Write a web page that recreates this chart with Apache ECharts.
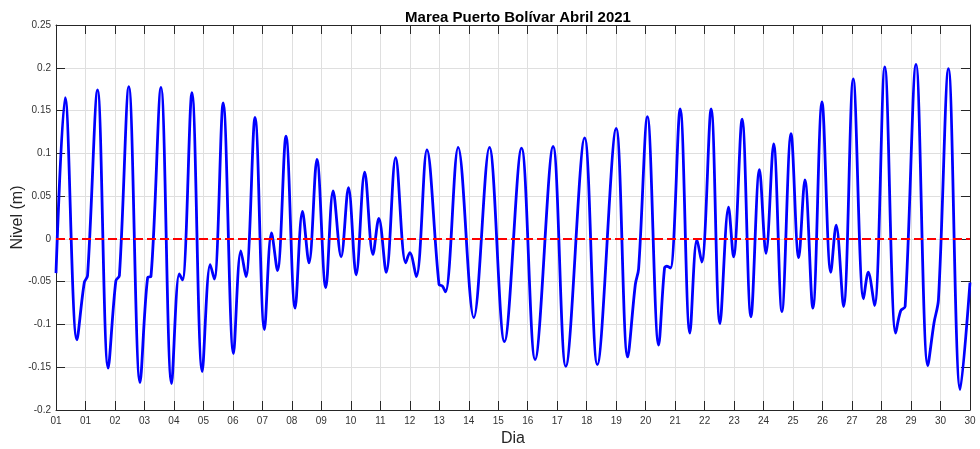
<!DOCTYPE html>
<html>
<head>
<meta charset="utf-8">
<script src="https://cdn.jsdelivr.net/npm/echarts@6/dist/echarts.min.js"></script>
<style>
html,body{margin:0;padding:0;background:#fff;}
#chart{width:980px;height:449px;}
</style>
</head>
<body>
<div id="chart"></div>
<script>
// Time position (in axis tick units, one tick per day label)
var timeDays = [
  0.00, 0.31, 0.71, 0.96, 1.07, 1.41, 1.77, 2.03, 2.15, 2.47,
  2.85, 3.11, 3.22, 3.56, 3.92, 4.18, 4.29, 4.61, 4.96, 5.23,
  5.37, 5.67, 6.02, 6.27, 6.44, 6.75, 7.07, 7.31, 7.51, 7.80,
  8.11, 8.36, 8.58, 8.85, 9.15, 9.40, 9.67, 9.92, 10.18, 10.47,
  10.75, 10.95, 11.20, 11.52, 11.86, 12.00, 12.22, 12.58, 12.99, 13.10,
  13.21, 13.64, 14.17, 14.70, 15.21, 15.79, 16.25, 16.86, 17.29, 17.93,
  18.36, 19.00, 19.39, 19.65, 19.76, 20.06, 20.44, 20.64, 20.72, 20.84,
  21.17, 21.50, 21.74, 21.90, 22.22, 22.52, 22.81, 22.98, 23.27, 23.57,
  23.86, 24.08, 24.34, 24.62, 24.93, 25.19, 25.40, 25.67, 25.98, 26.28,
  26.46, 26.71, 27.04, 27.39, 27.55, 27.76, 28.11, 28.48, 28.65, 28.80,
  29.17, 29.57, 29.78, 29.93, 30.27, 30.67, 31.00
];
// Sea level (m)
var levels = [
  -0.040, 0.165, -0.118, -0.051, -0.043, 0.174, -0.151, -0.049, -0.043, 0.178,
  -0.168, -0.045, -0.044, 0.177, -0.169, -0.041, -0.048, 0.171, -0.155, -0.030,
  -0.047, 0.159, -0.134, -0.014, -0.044, 0.142, -0.106, 0.007, -0.037, 0.120,
  -0.081, 0.032, -0.028, 0.093, -0.057, 0.056, -0.021, 0.060, -0.042, 0.078,
  -0.018, 0.024, -0.039, 0.095, -0.028, -0.016, -0.044, 0.104, -0.053, -0.055,
  -0.062, 0.107, -0.092, 0.107, -0.120, 0.106, -0.141, 0.108, -0.149, 0.118,
  -0.147, 0.129, -0.138, -0.053, -0.035, 0.143, -0.124, -0.034, -0.032, -0.034,
  0.152, -0.110, -0.001, -0.027, 0.152, -0.099, 0.037, -0.021, 0.140, -0.091,
  0.081, -0.017, 0.111, -0.085, 0.123, -0.022, 0.069, -0.081, 0.160, -0.039,
  0.016, -0.079, 0.187, -0.070, -0.039, -0.078, 0.201, -0.110, -0.084, -0.079,
  0.204, -0.148, -0.098, -0.071, 0.199, -0.176, -0.051
];
var xTickLabels = ['01','01','02','03','04','05','06','07','08','09','10','11','12','13','14','15',
  '16','17','18','19','20','21','22','23','24','25','26','27','28','29','30','30'];
var yTickLabels = ['-0.2','-0.15','-0.1','-0.05','0','0.05','0.1','0.15','0.2','0.25'];
var yMin = -0.2, yMax = 0.25, yStep = 0.05;
var refLevel = 0;
var titleText = 'Marea Puerto Bolívar Abril 2021';

var seriesData = timeDays.map(function (t, i) { return [t, levels[i]]; });

var FONT = '"Liberation Sans", Arial, Helvetica, sans-serif';
var AX = '#262626';
var GRID = '#dfdfdf';

var chart = echarts.init(document.getElementById('chart'), null, {renderer: 'canvas'});
chart.setOption({
  animation: false,
  backgroundColor: '#ffffff',
  textStyle: {fontFamily: FONT},
  title: {
    text: titleText,
    left: 513,
    textAlign: 'center',
    top: 5,
    textStyle: {fontFamily: FONT, fontSize: 15, fontWeight: 'bold', color: '#000'}
  },
  grid: {left: 56, right: 10, top: 25, bottom: 39, containLabel: false, outerBoundsMode: 'none'},
  xAxis: [{
    type: 'value', min: 0, max: xTickLabels.length - 1, interval: 1, position: 'bottom',
    axisLine: {show: true, onZero: false, lineStyle: {color: AX, width: 1}},
    axisTick: {show: true, inside: true, length: 9, lineStyle: {color: AX}},
    axisLabel: {show: true, margin: 6, fontSize: 10, color: '#333', fontFamily: FONT,
      formatter: function (v) { return xTickLabels[Math.round(v)]; }},
    splitLine: {show: true, lineStyle: {color: GRID, width: 1}},
    name: 'Dia', nameLocation: 'middle', nameGap: 21, nameMoveOverlap: false,
    nameTextStyle: {fontSize: 16, color: AX, fontFamily: FONT}
  }, {
    type: 'value', min: 0, max: xTickLabels.length - 1, interval: 1, position: 'top',
    axisLine: {show: true, onZero: false, lineStyle: {color: AX, width: 1}},
    axisTick: {show: true, inside: true, length: 9, lineStyle: {color: AX}},
    axisLabel: {show: false}, splitLine: {show: false}
  }],
  yAxis: [{
    type: 'value', min: yMin, max: yMax, interval: yStep, position: 'left',
    axisLine: {show: true, onZero: false, lineStyle: {color: AX, width: 1}},
    axisTick: {show: true, inside: true, length: 9, lineStyle: {color: AX}},
    axisLabel: {show: true, margin: 5, fontSize: 10, color: '#333', fontFamily: FONT,
      formatter: function (v) { return yTickLabels[Math.round((v - yMin) / yStep)]; }},
    splitLine: {show: true, lineStyle: {color: GRID, width: 1}},
    name: 'Nivel (m)', nameLocation: 'middle', nameGap: 30, nameRotate: 90, nameMoveOverlap: false,
    nameTextStyle: {fontSize: 16, color: AX, fontFamily: FONT}
  }, {
    type: 'value', min: yMin, max: yMax, interval: yStep, position: 'right',
    axisLine: {show: true, onZero: false, lineStyle: {color: AX, width: 1}},
    axisTick: {show: true, inside: true, length: 9, lineStyle: {color: AX}},
    axisLabel: {show: false}, splitLine: {show: false}
  }],
  series: [{
    name: 'Nivel',
    type: 'line',
    xAxisIndex: 0, yAxisIndex: 0,
    data: seriesData,
    showSymbol: false,
    smooth: 0.35,
    lineStyle: {color: '#0000ff', width: 2.8},
    z: 2
  }, {
    name: 'Cero',
    type: 'line',
    xAxisIndex: 0, yAxisIndex: 0,
    data: [[0, refLevel], [xTickLabels.length - 1, refLevel]],
    showSymbol: false,
    lineStyle: {color: '#ff0000', width: 2, type: [9, 4]},
    z: 3
  }]
});
</script>
</body>
</html>
